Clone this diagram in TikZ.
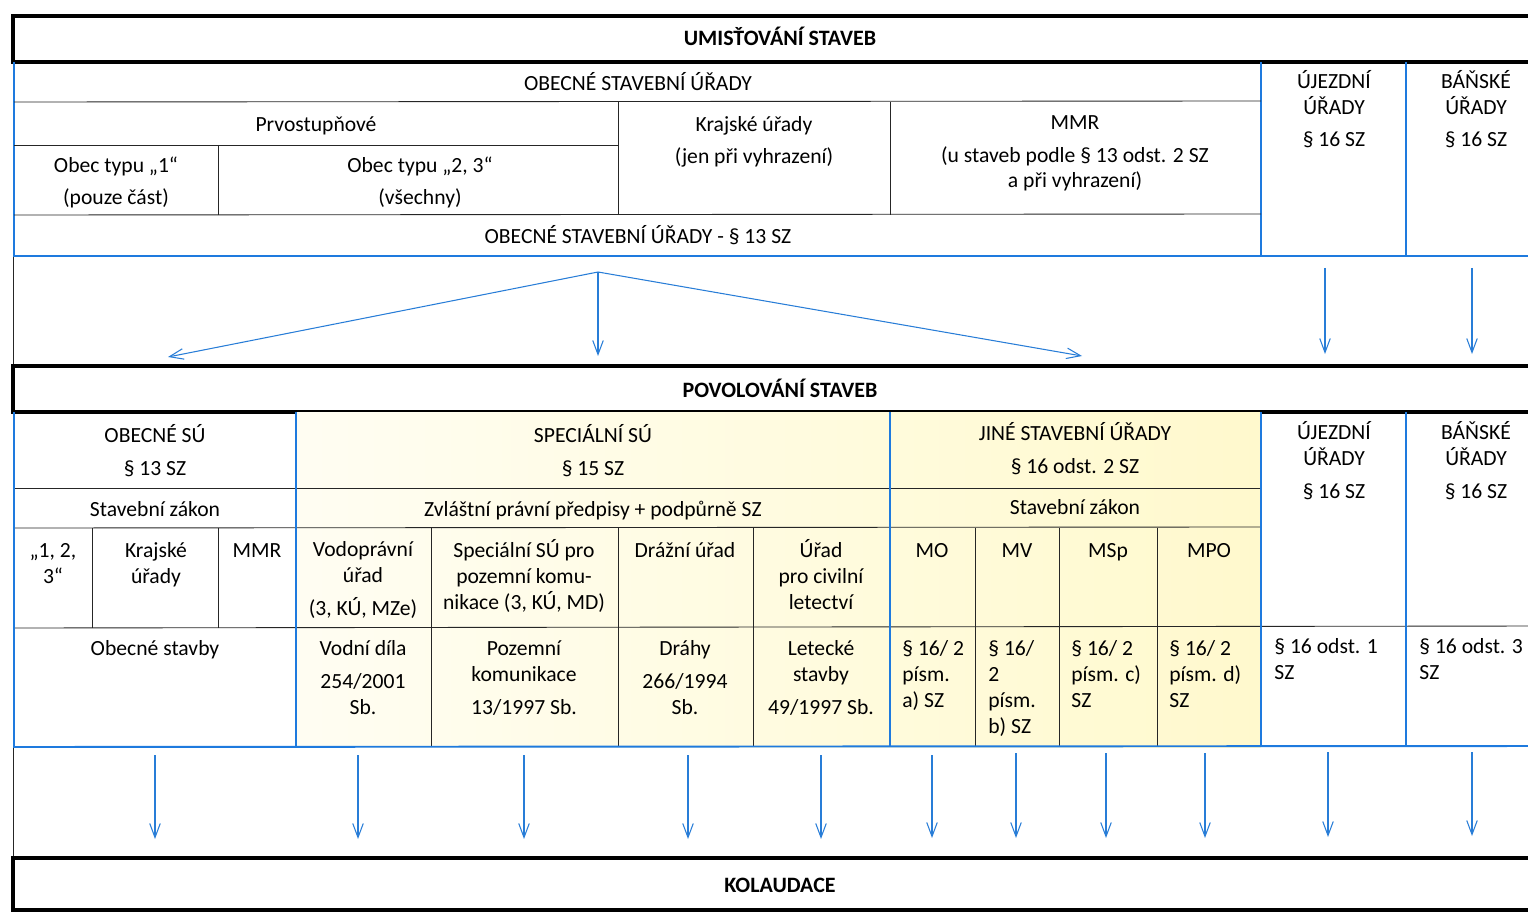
\documentclass[tikz,border=0pt]{standalone}
\usepackage{fontspec}
\setmainfont{Carlito}
\usetikzlibrary{arrows.meta}
\definecolor{lineblue}{RGB}{30,122,222}
\definecolor{arrowblue}{RGB}{40,125,215}
\definecolor{paleyellow}{RGB}{255,249,205}
\begin{document}
\begin{tikzpicture}[x=0.02cm, y=-0.02cm]
        \tikzstyle{head_style} = [black, line width=2pt]
        \tikzstyle{blue_style} = [lineblue, line width=1.1pt]
        \tikzstyle{thin_style} = [black!85, line width=0.5pt]
        \tikzstyle{cell_style} = [inner sep=0pt, anchor=base, align=center, font=\fontsize{12.3}{14.7}\selectfont]
        \tikzstyle{left_style} = [inner sep=0pt, anchor=base west, align=left, font=\fontsize{12.3}{14.7}\selectfont]
        \tikzstyle{title_style} = [inner sep=0pt, anchor=base, font=\fontsize{12.5}{14}\selectfont\bfseries]
        \tikzstyle{arrow_style} = [-{Straight Barb[length=8pt,width=6pt]}, arrowblue, line width=0.6pt]

        \useasboundingbox (0,0) rectangle (1528,912);
        \clip (0,0) rectangle (1528,912);

        % page frame on the left
        \draw[thin_style] (13,62) -- (13,912);

        % This is UMISTOVANI at the top
        \draw[head_style] (13,16) rectangle (1550,62);
        \node[title_style] (umist) at (780,46) {UMISŤOVÁNÍ STAVEB};

        \draw[blue_style] (14,62) -- (14,256) -- (1550,256);
        \draw[blue_style] (1261,62) -- (1261,256);
        \draw[blue_style] (1406,62) -- (1406,256);
        \draw[thin_style] (14,102) -- (1261,101);
        \draw[thin_style] (14,145) -- (618,145);
        \draw[thin_style] (218,145) -- (218,215);
        \draw[thin_style] (618,102) -- (618,215);
        \draw[thin_style] (890,102) -- (890,215);
        \draw[thin_style] (14,215) -- (1261,214);

        % multi-line cells sit on the baseline of their last line
        \node[cell_style] (osu_top) at (638,91) {OBECNÉ STAVEBNÍ ÚŘADY};
        \node[cell_style] (prvo) at (316,132) {Prvostupňové};
        \node[cell_style] (obec1) at (116,205) {Obec typu „1“\\[4pt](pouze část)};
        \node[cell_style] (obec23) at (420,205) {Obec typu „2, 3“\\[4pt](všechny)};
        \node[cell_style] (kraj_top) at (754,164) {Krajské úřady\\[4pt](jen při vyhrazení)};
        \node[cell_style] (mmr_top) at (1075,188) {MMR\\[4pt](u staveb podle § 13 odst. 2 SZ\\a při vyhrazení)};
        \node[cell_style] (osu13) at (638,244) {OBECNÉ STAVEBNÍ ÚŘADY - § 13 SZ};
        \node[cell_style] (ujezd_top) at (1334,147) {ÚJEZDNÍ\\ÚŘADY\\[4pt]§ 16 SZ};
        \node[cell_style] (bansk_top) at (1476,147) {BÁŇSKÉ\\ÚŘADY\\[4pt]§ 16 SZ};

        % arrows down to POVOLOVANI
        \coordinate (apex) at (598,272);
        \coordinate (t_left) at (168,357);
        \coordinate (t_mid) at (598,356);
        \coordinate (t_right) at (1082,356);
        \coordinate (u_top) at (1325,268);
        \coordinate (u_bot) at (1325,354);
        \coordinate (b_top) at (1472,268);
        \coordinate (b_bot) at (1472,354);

        \draw[arrow_style] (apex) -- (t_left);
        \draw[arrow_style] (apex) -- (t_mid);
        \draw[arrow_style] (apex) -- (t_right);
        \draw[arrow_style] (u_top) -- (u_bot);
        \draw[arrow_style] (b_top) -- (b_bot);

        % Then POVOLOVANI in the middle
        \draw[head_style] (13,366) rectangle (1550,412);
        \node[title_style] (povol) at (780,397) {POVOLOVÁNÍ STAVEB};

        \shade[left color=paleyellow!25, right color=paleyellow] (296,412) rectangle (1261,747);

        \draw[thin_style] (14,488) -- (1261,488);
        \draw[thin_style] (14,528) -- (1261,527);
        \draw[thin_style] (14,628) -- (1550,626);
        \draw[thin_style] (92,528) -- (92,628);
        \draw[thin_style] (218,528) -- (218,628);
        \draw[thin_style] (431,528) -- (431,747);
        \draw[thin_style] (618,528) -- (618,747);
        \draw[thin_style] (753,528) -- (753,747);
        \draw[thin_style] (975,528) -- (975,747);
        \draw[thin_style] (1059,528) -- (1059,747);
        \draw[thin_style] (1157,528) -- (1157,747);

        \draw[blue_style] (14,412) -- (14,747) -- (1550,746);
        \draw[blue_style] (296,412) -- (296,747);
        \draw[blue_style] (890,412) -- (890,747);
        \draw[blue_style] (1261,412) -- (1261,747);
        \draw[blue_style] (1406,412) -- (1406,747);

        \node[cell_style] (osu) at (155,475) {OBECNÉ SÚ\\[4pt]§ 13 SZ};
        \node[cell_style] (ssu) at (593,475) {SPECIÁLNÍ SÚ\\[4pt]§ 15 SZ};
        \node[cell_style] (jsu) at (1075,473) {JINÉ STAVEBNÍ ÚŘADY\\[4pt]§ 16 odst. 2 SZ};
        \node[cell_style] (ujezd) at (1334,498) {ÚJEZDNÍ\\ÚŘADY\\[4pt]§ 16 SZ};
        \node[cell_style] (bansk) at (1476,498) {BÁŇSKÉ\\ÚŘADY\\[4pt]§ 16 SZ};

        \node[cell_style] (sz1) at (155,516) {Stavební zákon};
        \node[cell_style] (zpp) at (593,516) {Zvláštní právní předpisy + podpůrně SZ};
        \node[cell_style] (sz2) at (1075,514) {Stavební zákon};

        \node[cell_style] (typ) at (53,583) {„1, 2,\\3“};
        \node[cell_style] (kraj) at (156,583) {Krajské\\úřady};
        \node[cell_style] (mmr) at (257,557) {MMR};
        \node[cell_style] (vod) at (363,615) {Vodoprávní\\úřad\\[4pt](3, KÚ, MZe)};
        \node[cell_style] (spsu) at (524,609) {Speciální SÚ pro\\pozemní komu-\\nikace (3, KÚ, MD)};
        \node[cell_style] (draz) at (685,557) {Drážní úřad};
        \node[cell_style] (ucl) at (821,609) {Úřad\\pro civilní\\letectví};
        \node[cell_style] (mo) at (932,557) {MO};
        \node[cell_style] (mv) at (1017,557) {MV};
        \node[cell_style] (msp) at (1108,557) {MSp};
        \node[cell_style] (mpo) at (1209,557) {MPO};

        \node[cell_style] (obs) at (155,655) {Obecné stavby};
        \node[cell_style] (vd) at (363,714) {Vodní díla\\[4pt]254/2001\\Sb.};
        \node[cell_style] (pk) at (524,714) {Pozemní\\komunikace\\[4pt]13/1997 Sb.};
        \node[cell_style] (dr) at (685,714) {Dráhy\\[4pt]266/1994\\Sb.};
        \node[cell_style] (ls) at (821,714) {Letecké\\stavby\\[4pt]49/1997 Sb.};
        \node[left_style] (pa) at (902,707) {§ 16/ 2\\písm.\\a) SZ};
        \node[left_style] (pb) at (988,733) {§ 16/\\2\\písm.\\b) SZ};
        \node[left_style] (pc) at (1071,707) {§ 16/ 2\\písm. c)\\SZ};
        \node[left_style] (pd) at (1169,707) {§ 16/ 2\\písm. d)\\SZ};
        \node[left_style] (o1) at (1274,679) {§ 16 odst. 1\\SZ};
        \node[left_style] (o3) at (1419,679) {§ 16 odst. 3\\SZ};

        % arrows down to KOLAUDACE
        \coordinate (s1) at (155,755);   \coordinate (e1) at (155,839);
        \coordinate (s2) at (358,755);   \coordinate (e2) at (358,839);
        \coordinate (s3) at (524,755);   \coordinate (e3) at (524,839);
        \coordinate (s4) at (688,755);   \coordinate (e4) at (688,839);
        \coordinate (s5) at (821,755);   \coordinate (e5) at (821,839);
        \coordinate (s6) at (932,755);   \coordinate (e6) at (932,838);
        \coordinate (s7) at (1016,753);  \coordinate (e7) at (1016,838);
        \coordinate (s8) at (1106,753);  \coordinate (e8) at (1106,838);
        \coordinate (s9) at (1205,753);  \coordinate (e9) at (1205,838);
        \coordinate (s10) at (1328,752); \coordinate (e10) at (1328,837);
        \coordinate (s11) at (1472,752); \coordinate (e11) at (1472,836);

        \draw[arrow_style] (s1) -- (e1);
        \draw[arrow_style] (s2) -- (e2);
        \draw[arrow_style] (s3) -- (e3);
        \draw[arrow_style] (s4) -- (e4);
        \draw[arrow_style] (s5) -- (e5);
        \draw[arrow_style] (s6) -- (e6);
        \draw[arrow_style] (s7) -- (e7);
        \draw[arrow_style] (s8) -- (e8);
        \draw[arrow_style] (s9) -- (e9);
        \draw[arrow_style] (s10) -- (e10);
        \draw[arrow_style] (s11) -- (e11);

        % Then KOLAUDACE at the bottom
        \draw[head_style] (13,858) rectangle (1550,910);
        \node[title_style] (kolaud) at (780,892) {KOLAUDACE};
    \end{tikzpicture}
\end{document}
